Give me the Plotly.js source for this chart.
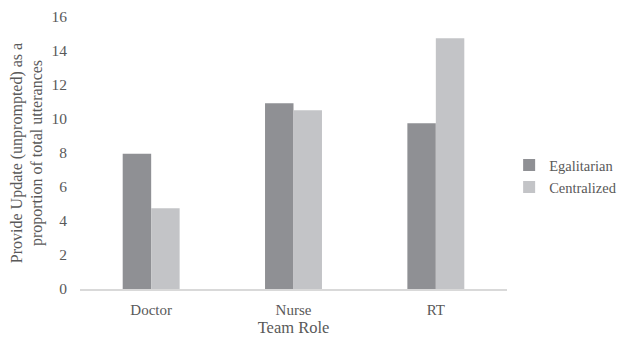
<!DOCTYPE html>
<html>
<head>
<meta charset="utf-8">
<script src="https://cdn.plot.ly/plotly-3.0.1.min.js"></script>
<style>
  html, body { margin: 0; padding: 0; background: #fff; }
  #chart { width: 620px; height: 339px; }
</style>
</head>
<body>
<div id="chart"></div>
<script>
// Unprompted updates by team role, per team structure
const roles = ['Doctor', 'Nurse', 'RT'];
const egalitarian = [7.95, 10.92, 9.75];
const centralized = [4.75, 10.52, 14.75];
const yTicks = [0, 2, 4, 6, 8, 10, 12, 14, 16];

const serif = 'Liberation Serif';
const grey = '#595959';

const traces = [
  {
    type: 'bar', name: 'Egalitarian', x: roles, y: egalitarian,
    marker: { color: '#8f9094' }, hoverinfo: 'none'
  },
  {
    type: 'bar', name: 'Centralized', x: roles, y: centralized,
    marker: { color: '#c3c4c7' }, hoverinfo: 'none'
  }
];

const layout = {
  width: 620, height: 339,
  margin: { l: 80, r: 112.5, t: 17.3, b: 50.3, autoexpand: false },
  paper_bgcolor: '#fff', plot_bgcolor: '#fff',
  barmode: 'group', bargap: 0.6, bargroupgap: 0,
  font: { family: serif, color: grey, size: 15 },
  showlegend: true,
  legend: {
    x: 1.005, y: 0.415, xanchor: 'left', yanchor: 'middle',
    font: { family: serif, size: 14.5, color: grey },
    itemwidth: 30, tracegroupgap: 0, borderwidth: 0
  },
  xaxis: {
    showgrid: false, zeroline: false,
    showline: true, linecolor: '#d9d9d9', linewidth: 2,
    ticks: '', ticklabelstandoff: 6,
    tickfont: { family: serif, size: 15, color: grey },
    title: { text: 'Team Role', font: { family: serif, size: 16.5, color: grey }, standoff: 3 }
  },
  yaxis: {
    range: [0, 16], tickvals: yTicks, ticktext: yTicks.map(String),
    showgrid: false, zeroline: false, showline: false,
    ticks: '', tickfont: { family: serif, size: 15.5, color: grey }, ticklabelstandoff: 12,
    title: {
      text: 'Provide Update (unprompted) as a<br>proportion of total utterances',
      font: { family: serif, size: 16, color: grey }, standoff: 4
    }
  }
};

Plotly.newPlot('chart', traces, layout, { displayModeBar: false, staticPlot: true });
</script>
</body>
</html>
